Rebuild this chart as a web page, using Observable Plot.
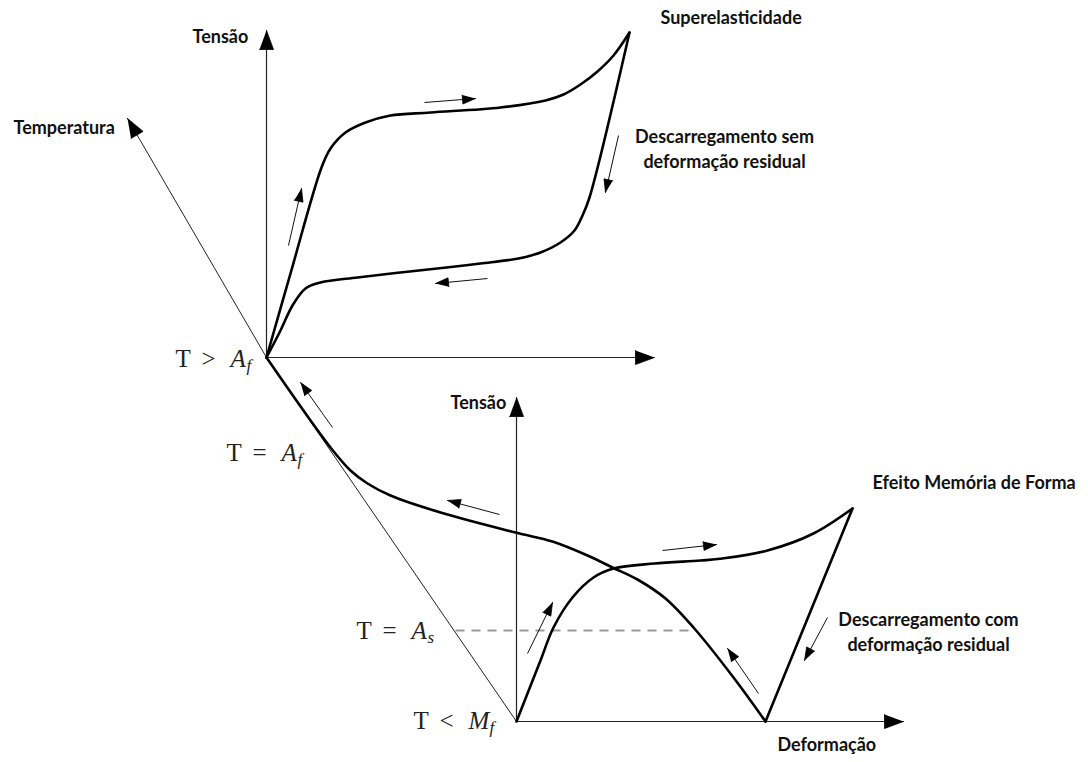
<!DOCTYPE html>
<html><head><meta charset="utf-8">
<script src="https://cdn.jsdelivr.net/npm/d3@7"></script>
<script src="https://cdn.jsdelivr.net/npm/@observablehq/plot@0.6"></script>
<style>html,body{margin:0;padding:0;background:#fff}svg{display:block}</style>
</head><body><div id="chart"></div>
<script>
// ---- Schematic data (drawing units, y grows downward) ----
// Superelasticity loop (T > Af)
const superLoading = [[266,357],[290,273],[321,167],[330,148],[345,132],[365,122],[390,115],[430,112],[500,107],[545,100],[563,94],[580,84],[597,71],[613,55],[629,32]];
const superUnloading = [[629,32],[589,197],[582,215],[574,230],[560,242],[540,252],[518,258],[480,263],[446,267],[400,272],[357,277],[320,282],[305,288],[292,305],[280,330],[266,357]];
// Shape memory effect (T < Mf)
const smeLoading = [[516,721],[540,660],[553,627],[572,597],[593,577],[613,568],[654,563],[700,560],[722,558],[767,550],[813,533],[852,508]];
const smeUnloading = [[852,508],[765,721]];
const heatingPath = [[765,721],[733,677],[693,627],[665,598],[637,579],[612,567],[587,555],[552,541],[515,532],[440,512],[390,495],[367,483],[350,470],[330,447],[266,357]];
// Axes: [x1, y1, x2, y2]
const stressStrainAxes = [[266,357,266,30],[266,357,654,357],[516,721,516,397],[516,721,903,721]];
const temperatureAxis = [[516,721],[266,357],[127,118]];
// As level (dashed)
const asLevel = [[455,630],[691,630]];
// Direction arrows: [x1, y1, x2(tip), y2(tip)]
const pathArrows = [
  [424,102,475,98],[288,245,301,188],[618,135,605,192],[487,278,435,283],
  [332,427,300,382],[499,514,447,500],[662,550,716,544],[527,653,552,602],[758,693,727,648],[827,617,804,660]
];
// Bold text labels
const labelText = ["Tensão","Temperatura","Superelasticidade","Descarregamento sem","deformação residual","Tensão","Efeito Memória de Forma","Descarregamento com","deformação residual","Deformação"];
const labelX = [192,13,660,724,724,450,872,928,928,777];
const labelY = [37,128,18,137,162,403,483,620,645,745];
const labelCentered = [false,false,false,true,true,false,false,true,true,false];
// Temperature state labels: T <rel> <sym>_<sub>
const tempRel = [">","=","=","<"];
const tempSym = ["A","A","A","M"];
const tempSub = ["f","f","s","f"];
const tempX = [175,226,356,413];
const tempY = [358,452,630,720];

// ---- Build tables ----
const pts = (arr, id) => arr.map(([x,y]) => ({x, y, id}));
const curves = [...pts(superLoading,"sl"),...pts(superUnloading,"su"),...pts(smeLoading,"ml"),...pts(smeUnloading,"mu"),...pts(heatingPath,"hp")];
function head(x1,y1,x2,y2,len,hw,id){
  const dx=x2-x1, dy=y2-y1, d=Math.hypot(dx,dy), ux=dx/d, uy=dy/d;
  const bx=x2-ux*len, by=y2-uy*len;
  return [{id,x:x2,y:y2},{id,x:bx-uy*hw,y:by+ux*hw},{id,x:bx+uy*hw,y:by-ux*hw}];
}
const axisLinks = stressStrainAxes.map(([x1,y1,x2,y2]) => ({x1,y1,x2,y2}));
const arrowLinks = pathArrows.map(([x1,y1,x2,y2]) => ({x1,y1,x2,y2}));
const heads = [];
stressStrainAxes.forEach((a,i) => heads.push(...head(...a,19,7,"a"+i)));
{ const n = temperatureAxis.length; heads.push(...head(...temperatureAxis[n-2],...temperatureAxis[n-1],19,7,"t")); }
pathArrows.forEach((a,i) => heads.push(...head(...a,13,4.5,"p"+i)));
const labels = labelText.map((t,i) => ({t, x:labelX[i], y:labelY[i], c:labelCentered[i]}));
const temps = tempRel.map((r,i) => ({r, s:tempSym[i], b:tempSub[i], x:tempX[i], y:tempY[i]}));
const subOffset = s => s === "M" ? 21 : 16;

const serif = "Liberation Serif, serif";
const sans = "Lato, sans-serif";
const labelStyle = {x:"x", y:"y", text:"t", fontFamily:sans, fontWeight:700, fontSize:18, fill:"#111"};

const chart = Plot.plot({
  width: 1088, height: 762, margin: 0,
  x: {domain: [0,1088], range: [0,1088], axis: null},
  y: {domain: [0,762], range: [0,762], axis: null},
  style: {background: "white", overflow: "visible"},
  marks: [
    Plot.line(pts(asLevel,"as"), {x:"x", y:"y", stroke:"#9a9a9a", strokeWidth:2, strokeDasharray:"9,7", strokeLinecap:"butt"}),
    Plot.line(pts(temperatureAxis,"ta"), {x:"x", y:"y", stroke:"#222", strokeWidth:1}),
    Plot.link(axisLinks, {x1:"x1", y1:"y1", x2:"x2", y2:"y2", stroke:"#222", strokeWidth:1.2}),
    Plot.line(curves, {x:"x", y:"y", z:"id", curve:"catmull-rom", stroke:"#000", strokeWidth:2.6}),
    Plot.link(arrowLinks, {x1:"x1", y1:"y1", x2:"x2", y2:"y2", stroke:"#111", strokeWidth:1}),
    Plot.line(heads, {x:"x", y:"y", z:"id", fill:"#000", stroke:"#000", strokeWidth:0.8}),
    Plot.text(labels.filter(d => !d.c), {...labelStyle, textAnchor:"start"}),
    Plot.text(labels.filter(d => d.c), {...labelStyle, textAnchor:"middle"}),
    Plot.text(temps, {x:"x", y:"y", text: () => "T", textAnchor:"start", fontFamily:serif, fontSize:25, fill:"#222"}),
    Plot.text(temps, {x:"x", y:"y", text:"r", dx:33, textAnchor:"middle", fontFamily:serif, fontSize:25, fill:"#222"}),
    Plot.text(temps, {x:"x", y:"y", text:"s", dx:55, textAnchor:"start", fontFamily:serif, fontStyle:"italic", fontSize:25, fill:"#222"}),
    ...["A","M"].map(sym => Plot.text(temps.filter(d => d.s === sym), {x:"x", y:"y", text:"b", dx:55+subOffset(sym), dy:7, textAnchor:"start", fontFamily:serif, fontStyle:"italic", fontSize:17, fill:"#222"}))
  ]
});
document.getElementById("chart").appendChild(chart);
</script>
</body></html>
